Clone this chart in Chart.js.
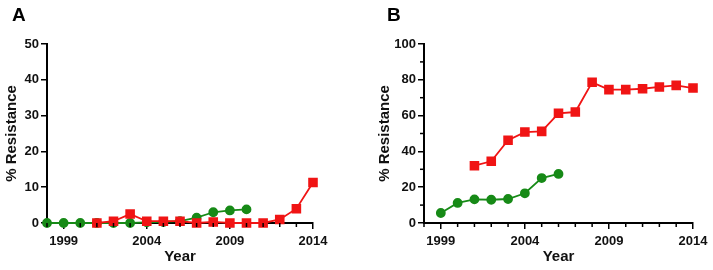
<!DOCTYPE html>
<html lang="en">
<head>
  <meta charset="UTF-8">
  <title>% Resistance by year</title>
  <style>
    body { margin: 0; background: #fff; }
    #wrap { position: relative; width: 713px; height: 270px; }
    canvas { position: absolute; top: 0; }
    #cA { left: 0; }
    #cB { left: 340px; }
    .panel { position: absolute; top: 4px; font: bold 19px "Liberation Sans", Arial, sans-serif; }
  </style>
</head>
<body>
  <div id="wrap">
    <canvas id="cA" width="340" height="270"></canvas>
    <canvas id="cB" width="373" height="270"></canvas>
    <div class="panel" style="left:12px">A</div>
    <div class="panel" style="left:387px">B</div>
  </div>

  <script src="https://cdn.jsdelivr.net/npm/chart.js"></script>
  <script>
    const years = [1998, 1999, 2000, 2001, 2002, 2003, 2004, 2005, 2006, 2007, 2008, 2009, 2010, 2011, 2012, 2013, 2014];
    const yearLabels = [1999, 2004, 2009, 2014];

    // panel A
    const aGreen = [0, 0, 0, 0, 0, 0, 0.2, 0.3, 0.5, 1.5, 3, 3.5, 3.8, null, null, null, null];
    const aRed = [null, null, null, 0, 0.5, 2.5, 0.5, 0.5, 0.5, 0, 0.3, 0, 0, 0, 1, 4, 11.3];
    // panel B
    const bGreen = [null, 5.6, 11.2, 13.2, 13, 13.4, 16.6, 25.1, 27.4, null, null, null, null, null, null, null, null];
    const bRed = [null, null, null, 32, 34.5, 46.2, 50.8, 51.2, 61.3, 62, 78.6, 74.5, 74.5, 75, 76, 76.9, 75.4];

    const RED = '#f01414';
    const GREEN = '#178a17';
    const FONT = '"Liberation Sans", Arial, sans-serif';

    function pts(vals) {
      return years.map((y, i) => ({ x: y, y: vals[i] })).filter(p => p.y !== null);
    }

    // short minor ticks, drawn from the scales
    const minorTicks = {
      id: 'minorTicks',
      afterDraw(chart, args, opts) {
        const ctx = chart.ctx;
        const xs = chart.scales.x, ys = chart.scales.y;
        ctx.save();
        ctx.strokeStyle = '#000';
        ctx.lineWidth = 1.5;
        if (opts.xMinor) {
          years.forEach(y => {
            if (yearLabels.includes(y)) return;
            const px = xs.getPixelForValue(y);
            ctx.beginPath();
            ctx.moveTo(px, xs.top);
            ctx.lineTo(px, xs.top + 4);
            ctx.stroke();
          });
        }
        (opts.yMinor || []).forEach(v => {
          const py = ys.getPixelForValue(v);
          ctx.beginPath();
          ctx.moveTo(ys.right, py);
          ctx.lineTo(ys.right - 4, py);
          ctx.stroke();
        });
        ctx.restore();
      }
    };

    function makeChart(id, green, red, yMax, labelStep, yMinor, yWidth, padLeft, padRight) {
      return new Chart(document.getElementById(id), {
        type: 'line',
        data: {
          datasets: [
            {
              data: pts(red),
              borderColor: RED,
              backgroundColor: RED,
              borderWidth: 1.8,
              pointStyle: 'rect',
              pointRadius: 5.5,
              clip: false
            },
            {
              data: pts(green),
              borderColor: GREEN,
              backgroundColor: GREEN,
              borderWidth: 1.8,
              pointStyle: 'circle',
              pointRadius: 4,
              clip: false
            }
          ]
        },
        options: {
          responsive: false,
          animation: false,
          layout: { padding: { left: padLeft, right: padRight, top: 44, bottom: 4 } },
          plugins: {
            legend: { display: false },
            tooltip: { enabled: false },
            minorTicks: { xMinor: true, yMinor: yMinor }
          },
          scales: {
            x: {
              type: 'linear',
              min: 1998,
              max: 2014,
              afterFit: s => { s.height = 43; },
              afterBuildTicks: s => { s.ticks = yearLabels.map(v => ({ value: v })); },
              border: { display: true, color: '#000', width: 2 },
              grid: { drawOnChartArea: false, drawTicks: true, tickLength: 6, color: '#000', lineWidth: 1.5 },
              ticks: {
                autoSkip: false,
                maxRotation: 0,
                padding: 5,
                color: '#111',
                callback: v => String(v),
                font: { family: FONT, size: 13, weight: 'bold' }
              },
              title: {
                display: true,
                text: 'Year',
                color: '#111',
                padding: { top: 0, bottom: 0 },
                font: { family: FONT, size: 15, weight: 'bold' }
              }
            },
            y: {
              min: 0,
              max: yMax,
              afterFit: s => { s.width = yWidth; },
              afterBuildTicks: s => {
                const t = [];
                for (let v = 0; v <= yMax; v += labelStep) t.push({ value: v });
                s.ticks = t;
              },
              border: { display: true, color: '#000', width: 2 },
              grid: { drawOnChartArea: false, drawTicks: true, tickLength: 6, color: '#000', lineWidth: 1.5 },
              ticks: {
                padding: 2,
                color: '#111',
                callback: v => String(v),
                font: { family: FONT, size: 13, weight: 'bold' }
              },
              title: {
                display: true,
                text: '% Resistance',
                color: '#111',
                padding: { top: 0, bottom: 4 },
                font: { family: FONT, size: 15, weight: 'bold' }
              }
            }
          }
        },
        plugins: [minorTicks]
      });
    }

    makeChart('cA', aGreen, aRed, 50, 10, [], 44, 3, 27);
    makeChart('cB', bGreen, bRed, 100, 20, [10, 30, 50, 70, 90], 48, 36, 20);
  </script>
</body>
</html>
